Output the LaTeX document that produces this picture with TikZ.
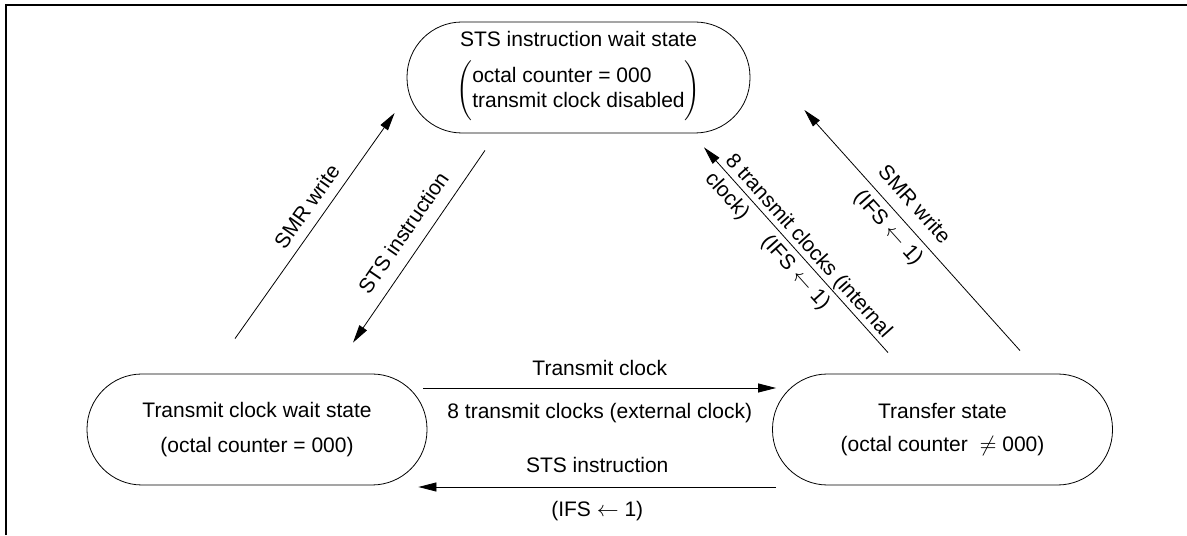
\documentclass[tikz,border=0pt]{standalone}
\usepackage{fontspec}
\setmainfont{Liberation Sans}
\usetikzlibrary{arrows.meta}
\newdimen\unitsize
\setlength{\unitsize}{0.5pt}

\begin{document}
\begin{tikzpicture}[x=\unitsize,y=\unitsize,font=\fontsize{10.5}{12.6}\selectfont]
\tikzset{state/.style={draw, rectangle, rounded corners=27.5pt, minimum width=170pt, minimum height=55.5pt, inner sep=0pt, align=center}}%
\tikzset{edge/.style={-{Triangle[length=9pt,width=4.5pt]}}}%
\useasboundingbox (0,0) rectangle (1187,535);
\draw[line width=0.65pt] (6,0) -- (6,530) -- (1187,530);
% the three states
\node[state, minimum width=171.5pt] (sts) at (578.5,457.5) {STS instruction wait state\\[4pt]
  $\left(\vcenter to 33pt{}\begin{tabular}{@{}l@{}}octal counter = 000\\transmit clock disabled\end{tabular}\right)$};
\node[state] (tcw) at (257,105.5) {Transmit clock wait state\\[5.2pt](octal counter = 000)};
\node[state] (xfer) at (942.5,105.5) {Transfer state\\[3.7pt](octal counter\ \ $\neq$ 000)};
% bottom pair
\draw[edge] ([shift={(-4,41.5)}]tcw.east) -- ([shift={(4,41.5)}]xfer.west)
  node[midway, above=2.75pt] (lbltc) {Transmit clock}
  node[midway, below=4pt] (lblext) {8 transmit clocks (external clock)};
\draw[edge] ([shift={(4,-57.5)}]xfer.west) -- ([shift={(-9,-57.5)}]tcw.east)
  node[midway, above=3.75pt] (lblsts) {STS instruction}
  node[midway, below=3.5pt] (lblifs) {(IFS $\leftarrow$ 1)};
% left side
\draw[edge] ([shift={(-22,35)}]tcw.north) -- ([shift={(-12,-35.5)}]sts.west)
  node[pos=.54, sloped, above=1.5pt] (lblsmrl) {SMR write};
\draw[edge] ([shift={(-93.5,-17)}]sts.south) -- ([shift={(96,31)}]tcw.north)
  node[pos=.49, sloped, above=3pt] (lblstsl) {STS instruction};
% right side
\draw[edge] ([shift={(-54.5,21)}]xfer.north) -- ([shift={(125.5,-14)}]sts.south)
  node[pos=.938, rotate=-48.2, anchor=west, align=left, yshift=-1pt] (lblint) {8 transmit clocks (internal\\[1pt]clock)}
  node[pos=.44, sloped, below=-0.5pt] (lblifsi) {(IFS $\leftarrow$ 1)};
\draw[edge] ([shift={(77.5,23)}]xfer.north) -- ([shift={(54,-32.5)}]sts.east)
  node[pos=.555, sloped, above=2.5pt] (lblsmrr) {SMR write}
  node[pos=.555, sloped, below=0pt] (lblifsr) {(IFS $\leftarrow$ 1)};
\end{tikzpicture}
\end{document}
